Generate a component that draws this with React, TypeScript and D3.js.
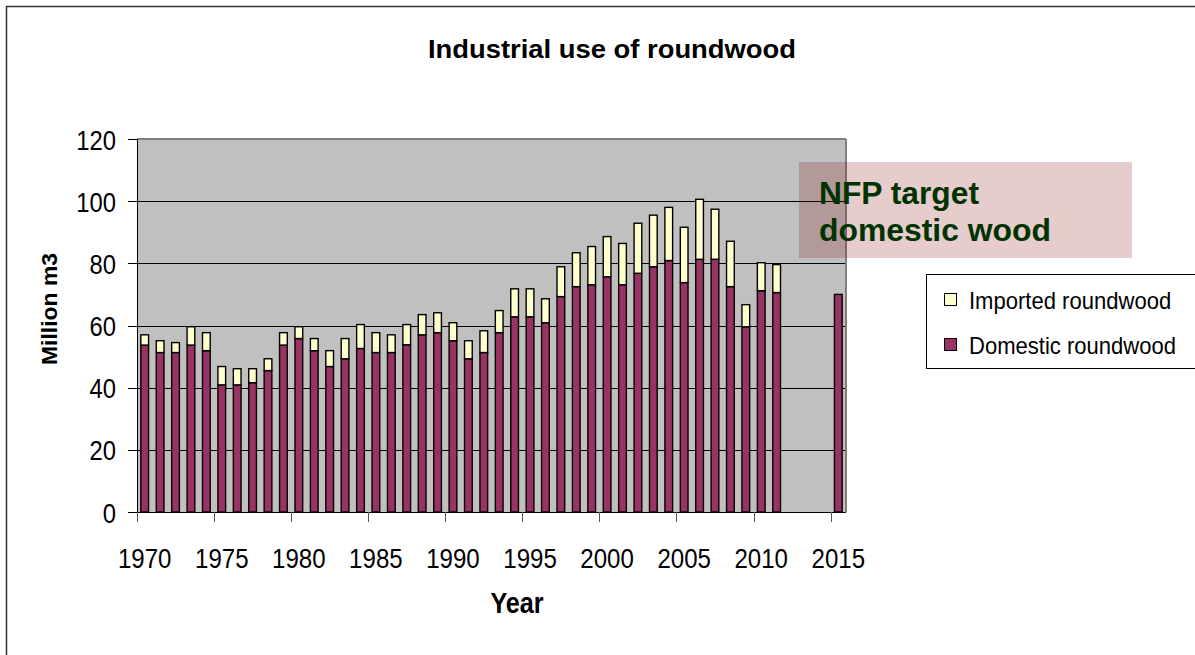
import React from "react";
import * as d3 from "d3";

const years: number[] = d3.range(1970, 2016);
const domestic: (number | null)[] = [
  53.7, 51.3, 51.3, 53.7, 51.9, 40.9, 40.9, 41.6, 45.5, 53.7,
  55.8, 51.9, 46.8, 49.3, 52.6, 51.3, 51.3, 53.8, 57.0, 57.7,
  55.1, 49.3, 51.3, 57.7, 62.8, 62.8, 60.9, 69.3, 72.5, 73.1,
  75.7, 73.1, 76.8, 78.9, 80.9, 73.8, 81.3, 81.3, 72.5, 59.6,
  71.2, 70.6, null, null, null, 70.0,
];
const imported: (number | null)[] = [
  3.3, 3.8, 3.2, 5.9, 5.8, 5.9, 5.2, 4.5, 3.8, 4.0,
  3.8, 3.9, 5.1, 6.5, 7.7, 6.4, 5.7, 6.5, 6.5, 6.4,
  5.8, 5.8, 7.0, 7.1, 9.0, 9.0, 7.7, 9.6, 10.9, 12.3,
  12.9, 13.3, 16.1, 16.6, 17.1, 17.8, 19.3, 16.1, 14.6, 7.1,
  9.0, 9.0, null, null, null, null,
];
const yTicks: number[] = [0, 20, 40, 60, 80, 100, 120];
const xTickLabels: number[] = [1970, 1975, 1980, 1985, 1990, 1995, 2000, 2005, 2010, 2015];
const seriesNames = ["Imported roundwood", "Domestic roundwood"];

const W = 1195;
const H = 655;
const L = 137, R = 846, T = 139, B = 512;
const FONT = "'Liberation Sans', Arial, sans-serif";
const DOM_COLOR = "#993366";
const IMP_COLOR = "#FFFFCC";

export default function App() {
  const x = d3.scaleBand<number>().domain(years).range([L, R]).paddingInner(0).paddingOuter(0);
  const y = d3.scaleLinear().domain([0, 120]).range([B, T]);
  const bw = x.bandwidth() * 0.5;

  const rows = years.map((yr, i) => ({ year: yr, domestic: domestic[i] ?? 0, imported: imported[i] ?? 0 }));
  const stack = d3.stack<any>().keys(["domestic", "imported"]);
  const layers = stack(rows);
  const colors: Record<string, string> = { domestic: DOM_COLOR, imported: IMP_COLOR };

  return (
    <svg width={W} height={H} style={{ position: "absolute", left: 0, top: 0, background: "#fff" }} fontFamily={FONT}>
      <rect x={6.5} y={6.5} width={1300} height={800} fill="#fff" stroke="#333" strokeWidth={1.5} />
      <text x={612} y={58} textAnchor="middle" fontSize={26} fontWeight="bold" textLength={368} lengthAdjust="spacingAndGlyphs">
        Industrial use of roundwood
      </text>

      {/* plot area */}
      <rect x={L} y={T} width={R - L} height={B - T} fill="#C0C0C0" />
      {yTicks.filter((t) => t > 0 && t < 120).map((t) => (
        <line key={"g" + t} x1={L} x2={R} y1={Math.round(y(t)) + 0.5} y2={Math.round(y(t)) + 0.5} stroke="#000" strokeWidth={1} />
      ))}
      <line x1={L} x2={R} y1={T} y2={T} stroke="#808080" strokeWidth={2} />
      <line x1={R} x2={R} y1={T} y2={B} stroke="#808080" strokeWidth={2} />

      {/* bars */}
      {layers.map((layer) =>
        layer.map((d: any, i: number) => {
          const v = d[1] - d[0];
          if (!v) return null;
          const yr = years[i];
          return (
            <rect
              key={layer.key + yr}
              x={(x(yr) as number) + (x.bandwidth() - bw) / 2}
              y={y(d[1])}
              width={bw}
              height={y(d[0]) - y(d[1])}
              fill={colors[layer.key as string]}
              stroke="#000"
              strokeWidth={1.4}
            />
          );
        })
      )}

      {/* axes */}
      <line x1={L + 0.5} x2={L + 0.5} y1={T} y2={B} stroke="#000" strokeWidth={1} />
      <line x1={L} x2={R} y1={B + 0.5} y2={B + 0.5} stroke="#000" strokeWidth={1} />
      {yTicks.map((t) => (
        <g key={"yt" + t}>
          <line x1={L - 9} x2={L} y1={Math.round(y(t)) + 0.5} y2={Math.round(y(t)) + 0.5} stroke="#000" />
          <g transform={`translate(${L - 21},${y(t) + 10.5}) scale(0.85,1)`}>
            <text x={0} y={0} textAnchor="end" fontSize={28}>{t}</text>
          </g>
        </g>
      ))}
      {xTickLabels.map((yr) => (
        <g key={"xt" + yr}>
          <line x1={Math.round(x(yr) as number) + 0.5} x2={Math.round(x(yr) as number) + 0.5} y1={B} y2={B + 10} stroke="#555" />
          <g transform={`translate(${(x(yr) as number) + x.bandwidth() / 2},${568}) scale(0.86,1)`}>
            <text x={0} y={0} textAnchor="middle" fontSize={28}>{yr}</text>
          </g>
        </g>
      ))}

      {/* axis titles */}
      <g transform={`translate(517,612.5) scale(0.84,1)`}>
        <text x={0} y={0} textAnchor="middle" fontSize={30} fontWeight="bold">Year</text>
      </g>
      <text transform="translate(56.5,309) rotate(-90)" textAnchor="middle" fontSize={22} fontWeight="bold" textLength={112} lengthAdjust="spacingAndGlyphs">
        Million m3
      </text>

      {/* NFP annotation */}
      <rect x={799} y={162} width={333} height={96} fill="rgba(128,0,0,0.2)" />
      <text x={819} y={203.5} fontSize={31} fontWeight="bold" fill="#003300" textLength={160} lengthAdjust="spacingAndGlyphs">NFP target</text>
      <text x={819} y={240.7} fontSize={31} fontWeight="bold" fill="#003300" textLength={232} lengthAdjust="spacingAndGlyphs">domestic wood</text>

      {/* legend */}
      <rect x={926.5} y={274.5} width={300} height={94} fill="#fff" stroke="#000" strokeWidth={1} />
      {seriesNames.map((name, i) => (
        <g key={name}>
          <rect x={944.5} y={293.5 + i * 45} width={12} height={12} fill={i === 0 ? IMP_COLOR : DOM_COLOR} stroke="#000" strokeWidth={1} />
          <g transform={`translate(969,${309.3 + i * 44.5}) scale(0.9,1)`}>
            <text x={0} y={0} fontSize={24.5}>{name}</text>
          </g>
        </g>
      ))}
    </svg>
  );
}
